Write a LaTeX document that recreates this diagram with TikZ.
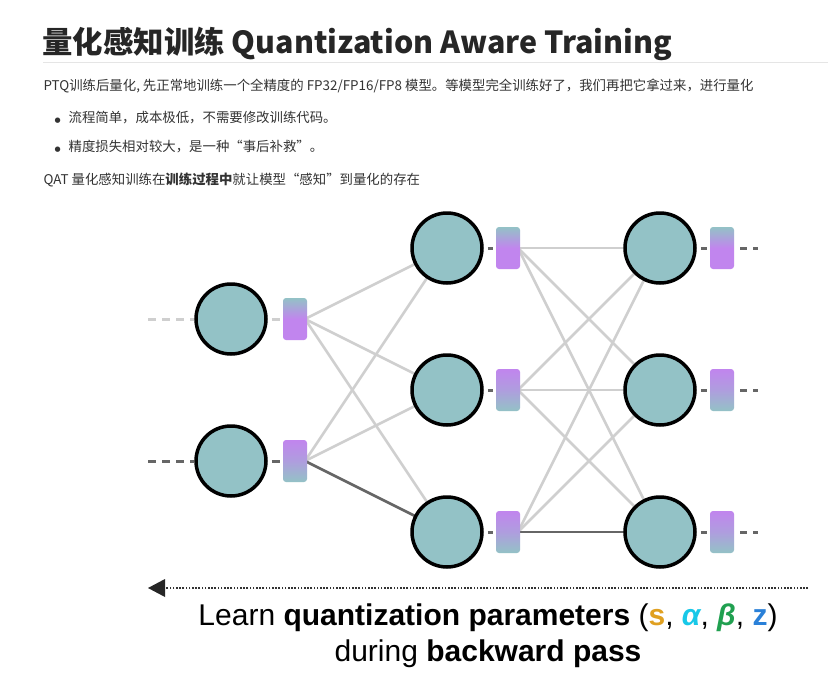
\documentclass[tikz,border=0pt]{standalone}
\usepackage{fontspec}
\setmainfont{Noto Sans CJK SC}
\newfontfamily\lat{Liberation Sans}
\newfontfamily\djv{DejaVu Sans}
\usetikzlibrary{arrows.meta}
\definecolor{teal}{HTML}{93C2C6}
\definecolor{purp}{HTML}{C185EE}
\definecolor{edge}{HTML}{CFCFCF}
\definecolor{dark}{HTML}{666666}
\tikzset{
 neuron/.style={circle,draw=black,line width=3.5pt,fill=teal,minimum size=70pt,inner sep=0pt},
 qa/.style={rounded corners=3pt,minimum width=24pt,minimum height=42pt,inner sep=0pt,top color=teal,bottom color=purp,middle color=purp},
 qb/.style={rounded corners=3pt,minimum width=24pt,minimum height=42pt,inner sep=0pt,top color=purp,bottom color=teal,middle color=purp!60!teal},
 wl/.style={draw=edge,line width=2.6pt},
 wd/.style={draw=dark,line width=2.6pt},
 stub/.style={line width=3pt,dash pattern=on 8pt off 6pt},
 para/.style={anchor=west,font=\fontsize{13.4}{15}\selectfont,text=black!80},
}
\begin{document}
\begin{tikzpicture}[x=1pt,y=-1pt]
\useasboundingbox[fill=white] (0,0) rectangle (828,683);
% text
\node[anchor=west,font=\bfseries\fontsize{30.4}{34}\selectfont,text=black!85] (title) at (39,44) {量化感知训练 Quantization Aware Training};
\draw[draw=black!10,line width=0.8pt] (43,62) -- (828,62);
\node[para] (p1) at (40,86) {PTQ训练后量化, 先正常地训练一个全精度的 FP32/FP16/FP8 模型。等模型完全训练好了，我们再把它拿过来，进行量化};
\node[para] (b1) at (51,118) {{\djv\fontsize{7}{7}\selectfont ●}\hspace{8pt}流程简单，成本极低，不需要修改训练代码。};
\node[para] (b2) at (51,147) {{\djv\fontsize{7}{7}\selectfont ●}\hspace{8pt}精度损失相对较大，是一种“事后补救”。};
\node[para] (p2) at (40,180) {QAT 量化感知训练在\textbf{训练过程中}就让模型“感知”到量化的存在};
% neuron positions
\foreach \n/\x/\y in {a1/231/319,a2/231/461,b1n/447/248,b2n/447/390,b3n/447/532,c1/660/248,c2/660/390,c3/660/532}
  \coordinate (\n) at (\x,\y);
\foreach \n/\x/\y in {qa1/295/319,qa2/295/461,qb1/508/248,qb2/508/390,qb3/508/532,qc1/722/248,qc2/722/390,qc3/722/532}
  \coordinate (\n) at (\x,\y);
% edges
\foreach \s in {qa1,qa2}\foreach \t in {b1n,b2n,b3n}
  \draw[wl] ([xshift=10pt]\s) -- (\t);
\foreach \s in {qb1,qb2,qb3}\foreach \t in {c1,c2,c3}
  \draw[wl] ([xshift=10pt]\s) -- (\t);
\draw[wd] ([xshift=10pt]qa2) -- (b3n);
\draw[wd] ([xshift=10pt]qb3) -- (c3);
% nodes
\foreach \n in {a1,a2,b1n,b2n,b3n,c1,c2,c3}
  \node[neuron] (N\n) at (\n) {};
\node[qa] (Qqa1) at (qa1) {};
\node[qb] (Qqa2) at (qa2) {};
\node[qa] (Qqb1) at (qb1) {};
\node[qb] (Qqb2) at (qb2) {};
\node[qb] (Qqb3) at (qb3) {};
\node[qa] (Qqc1) at (qc1) {};
\node[qb] (Qqc2) at (qc2) {};
\node[qb] (Qqc3) at (qc3) {};
% stubs
\coordinate (in1) at (148,319); \coordinate (in2) at (148,461);
\draw[stub,draw=edge] (in1) -- (Na1.west);
\draw[stub,draw=dark] (in2) -- (Na2.west);
\draw[draw=edge,line width=3pt] ([xshift=4pt]Na1.east) -- ([xshift=-3pt]Qqa1.west);
\foreach \a/\q in {a2/qa2,b1n/qb1,b2n/qb2,b3n/qb3,c1/qc1,c2/qc2,c3/qc3}
  \draw[draw=dark,line width=3pt] ([xshift=4pt]N\a.east) -- ([xshift=-3pt]Q\q.west);
\foreach \q in {qc1,qc2,qc3}{
  \coordinate (o\q) at ([xshift=24pt]Q\q.east);
  \draw[draw=dark,line width=3pt,dash pattern=on 7pt off 6pt] ([xshift=6pt]Q\q.east) -- (o\q);}
% arrow
\coordinate (arrE) at (808,588); \coordinate (arrW) at (148,588);
\draw[draw=black!80,line width=2pt,dash pattern=on 1.6pt off 1.6pt] (arrE) -- ([xshift=14pt]arrW);
\fill[black!85] (arrW) -- ++(17,-9) -- ++(0,18) -- cycle;
\node[font=\lat\fontsize{30}{33}\selectfont] (l1) at (488,618) {Learn \textbf{quantization parameters} (\textbf{\textcolor[HTML]{E0A020}{s}}, \textbf{\textcolor[HTML]{18C8E8}{\itshape α}}, \textbf{\textcolor[HTML]{20A050}{\itshape β}}, \textbf{\textcolor[HTML]{2A80D8}{z}})};
\node[font=\lat\fontsize{30}{33}\selectfont] (l2) at (488,654) {during \textbf{backward pass}};
\end{tikzpicture}
\end{document}
